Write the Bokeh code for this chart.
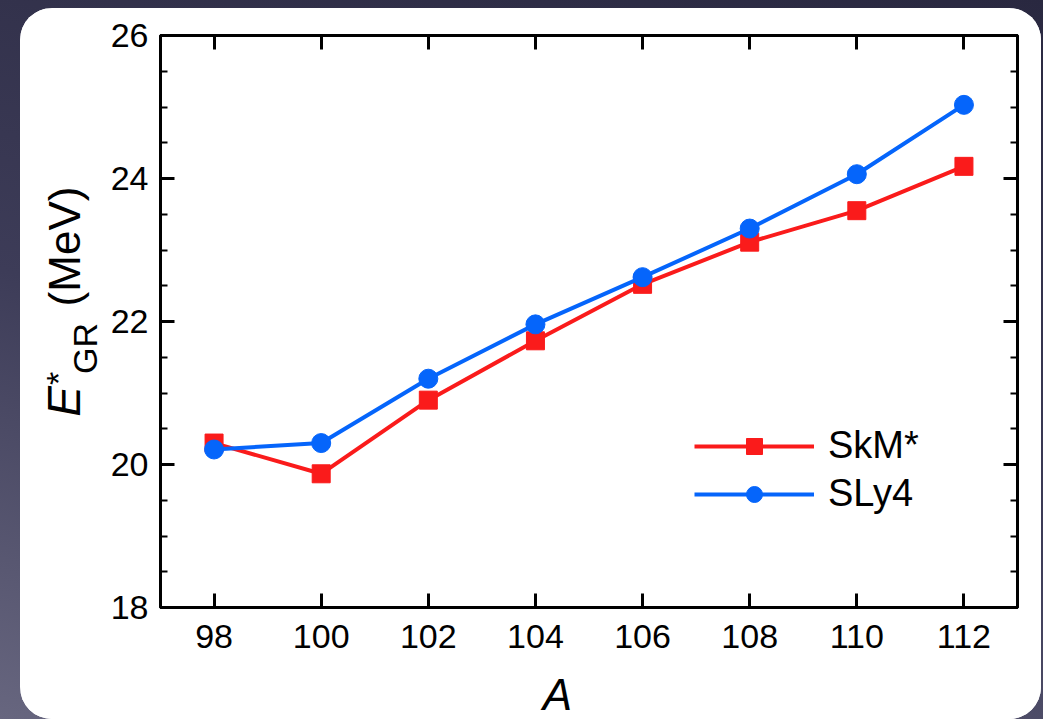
import math
from bokeh.plotting import figure
from bokeh.layouts import row, column
from bokeh.models import (Legend, LegendItem, LinearAxis, FixedTicker,
                          GlobalInlineStyleSheet, Range1d)
from bokeh.core.properties import value
from bokeh.embed import file_html
from bokeh.resources import INLINE

# ---- data ----
A = [98, 100, 102, 104, 106, 108, 110, 112]
skm = [20.30, 19.87, 20.90, 21.73, 22.52, 23.11, 23.55, 24.17]
sly4 = [20.21, 20.30, 21.20, 21.96, 22.62, 23.30, 24.06, 25.03]
x_ticks = [98, 100, 102, 104, 106, 108, 110, 112]
y_ticks = [18, 20, 22, 24, 26]
series_names = ["SkM*", "SLy4"]

RED = "#fa1b1b"
BLUE = "#0565fb"
FONT = "Liberation Sans"

css = GlobalInlineStyleSheet(css="""
html, body { margin: 0 !important; padding: 0; height: 100%;
  background: linear-gradient(15deg, #67667f 0%, #3d3c58 45%, #292840 100%); }
""")

# ---- main plot ----
p = figure(width=936, height=660, frame_width=857, frame_height=572,
           min_border_left=55, min_border_right=24, min_border_top=27, min_border_bottom=61,
           x_range=Range1d(97, 113), y_range=Range1d(18, 26), title_location=None,
           output_backend="svg", toolbar_location=None,
           background_fill_color="white", border_fill_color="white")
p.xgrid.visible = False
p.ygrid.visible = False
p.outline_line_color = "black"
p.outline_line_width = 3


def style_axis(ax, show_labels, is_x):
    ticks = x_ticks if is_x else y_ticks
    ax.ticker = FixedTicker(ticks=ticks,
                            minor_ticks=[] if is_x else [18 + 0.5 * i for i in range(17)])
    ax.axis_line_width = 3
    ax.axis_line_color = "black"
    ax.major_tick_line_width = 3
    ax.minor_tick_line_width = 2
    ax.major_tick_in = 14
    ax.major_tick_out = 0
    ax.minor_tick_in = 7
    ax.minor_tick_out = 0
    if is_x:
        ax.minor_tick_line_color = None
    ax.major_label_text_font = FONT
    ax.major_label_text_color = "black"
    ax.major_label_text_font_size = "34px"
    if show_labels:
        ax.major_label_standoff = 12 if not is_x else 17
    else:
        ax.major_label_overrides = {t: "" for t in ticks}
        ax.major_label_standoff = 0


style_axis(p.xaxis[0], True, True)
style_axis(p.yaxis[0], True, False)
ax_top = LinearAxis()
style_axis(ax_top, False, True)
p.add_layout(ax_top, "above")
ax_right = LinearAxis()
style_axis(ax_right, False, False)
p.add_layout(ax_right, "right")

# ---- series ----
l1 = p.line(A, skm, line_color=RED, line_width=4)
m1 = p.scatter(A, skm, marker="square", size=18, fill_color=RED, line_color=RED)
l2 = p.line(A, sly4, line_color=BLUE, line_width=4)
m2 = p.scatter(A, sly4, marker="circle", size=19, fill_color=BLUE, line_color=BLUE)

legend = Legend(items=[LegendItem(label=series_names[0], renderers=[l1, m1]),
                       LegendItem(label=series_names[1], renderers=[l2, m2])],
                location=(534, 92), glyph_width=120, glyph_height=40, label_height=40,
                spacing=5, padding=0, margin=0, label_standoff=14,
                border_line_color=None, background_fill_alpha=0,
                label_text_font=FONT, label_text_font_size="38px",
                label_text_color="black")
p.add_layout(legend)


def text_panel(fw, fh, bl, br, bt, bb, x0, y0):
    """A blank figure whose frame starts at window pixel (x0, y0); data coords == window px (y negated)."""
    f = figure(width=fw + bl + br, height=fh + bt + bb, frame_width=fw, frame_height=fh,
               min_border=0, min_border_left=bl, min_border_right=br,
               min_border_top=bt, min_border_bottom=bb, title_location=None,
               x_range=Range1d(x0, x0 + fw), y_range=Range1d(-(y0 + fh), -y0),
               x_axis_location=None, y_axis_location=None,
               output_backend="svg", toolbar_location=None,
               background_fill_color="white", border_fill_color="white")
    f.grid.visible = False
    f.outline_line_color = None
    return f


# ---- y-axis title (frame aligned vertically with the main frame: window y 35..607) ----
q = text_panel(85, 572, 0, 0, 27, 112, 20, 35)
rot = math.pi / 2
q.text(x=[63], y=[-401], text=["E"], angle=rot, text_font=value(FONT),
       text_font_style="italic", text_font_size="46px", text_color="black",
       text_align="center", text_baseline="middle")
q.text(x=[57], y=[-378], text=["*"], angle=rot, text_font=value(FONT),
       text_font_size="34px", text_color="black",
       text_align="center", text_baseline="middle")
q.text(x=[84], y=[-348], text=["GR"], angle=rot, text_font=value(FONT),
       text_font_size="34px", text_color="black",
       text_align="center", text_baseline="middle")
q.text(x=[64], y=[-246], text=["(MeV)"], angle=rot, text_font=value(FONT),
       text_font_size="44px", text_color="black",
       text_align="center", text_baseline="middle")

# ---- x-axis title (frame aligned horizontally with the main frame: window x 160..1017) ----
r = text_panel(857, 51, 55, 24, 0, 0, 160, 668)
r.text(x=[557], y=[-694], text=["A"], text_font=value(FONT),
       text_font_style="italic", text_font_size="44px", text_color="black",
       text_align="center", text_baseline="middle")

card = row(q, column(p, r), stylesheets=[css],
           styles={"margin-left": "20px", "margin-top": "8px", "border-radius": "32px",
                   "overflow": "hidden", "background": "white"})

open("out.html", "w").write(file_html(card, INLINE))
